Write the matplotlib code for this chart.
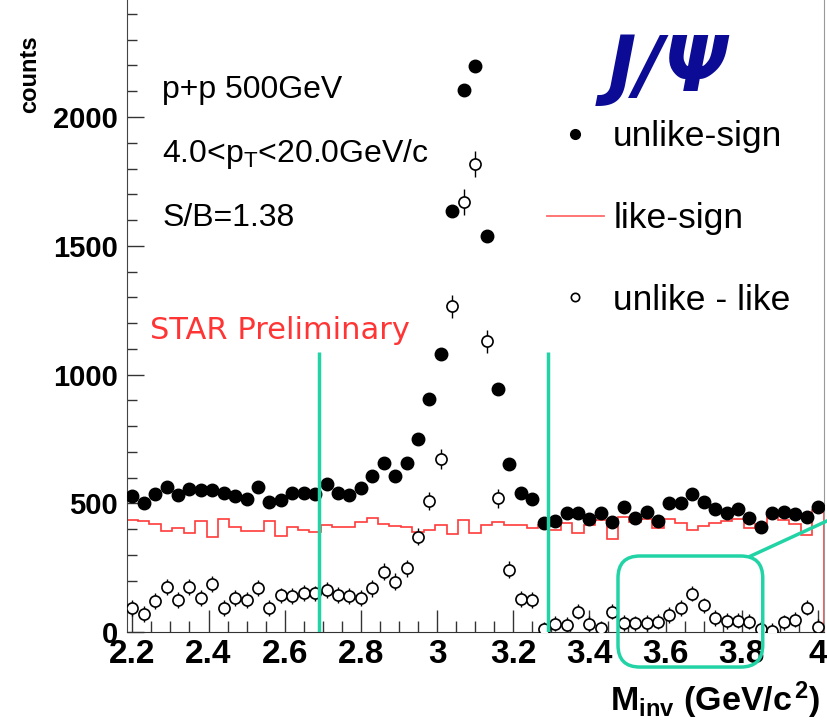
import numpy as np
import matplotlib.pyplot as plt
from matplotlib.patches import FancyBboxPatch
from matplotlib.lines import Line2D
from matplotlib.ticker import MultipleLocator
from matplotlib.transforms import IdentityTransform

plt.rcParams['font.family'] = ['Liberation Sans', 'DejaVu Sans']
plt.rcParams['mathtext.fontset'] = 'custom'
plt.rcParams['mathtext.rm'] = 'Liberation Sans'
plt.rcParams['mathtext.bf'] = 'Liberation Sans:bold'
plt.rcParams['mathtext.it'] = 'Liberation Sans:italic'

# invariant mass bins, 30 MeV wide
edges = np.round(np.linspace(2.185, 4.015, 62), 3)
mass = 0.5 * (edges[:-1] + edges[1:])

# unlike-sign pairs
unlike = np.array([527, 501, 537, 565, 533, 555, 552, 552, 540, 529,
                   517, 565, 507, 515, 539, 539, 537, 576, 542, 533,
                   559, 607, 656, 607, 656, 749, 905, 1080, 1636, 2105,
                   2197, 1538, 943, 653, 539, 516, 423, 432, 462, 462,
                   439, 462, 429, 485, 442, 468, 433, 501, 501, 537,
                   507, 477, 462, 477, 442, 408, 462, 468, 459, 449,
                   488])

# like-sign pairs (background)
like = np.array([436, 430, 419, 393, 404, 384, 430, 371, 439, 410,
                 393, 393, 430, 375, 410, 397, 391, 417, 410, 410,
                 427, 442, 420, 414, 407, 390, 398, 415, 383, 436,
                 384, 417, 429, 418, 416, 405, 415, 397, 425, 384,
                 416, 436, 361, 449, 429, 438, 403, 438, 423, 397,
                 414, 423, 430, 439, 406, 420, 449, 436, 420, 378,
                 473])

# unlike - like
signal = np.array([93, 71, 122, 175, 125, 177, 132, 188, 93, 132,
                   125, 171, 93, 143, 141, 151, 151, 164, 145, 141,
                   132, 171, 235, 197, 248, 371, 510, 671, 1266, 1671,
                   1817, 1130, 520, 242, 128, 125, 12, 33, 30, 80,
                   32, 15, 80, 35, 35, 35, 41, 67, 93, 150,
                   104, 55, 43, 45, 41, 12, 6, 38, 49, 95,
                   20])
signal_err = np.sqrt(unlike + like)

# mass window edges
window = [2.69, 3.29]

green = '#22d3a6'
red = '#ff3b3b'

fig = plt.figure(figsize=(8.28, 7.24), dpi=100)
ax = fig.add_axes([0.1529, 0.1267, 0.8419, 0.8733])

ax.stairs(like, edges, color=red, lw=1.2, zorder=2)
ax.plot(mass, unlike, 'o', color='black', ms=9, zorder=3)
ax.errorbar(mass, signal, yerr=signal_err, fmt='o', mfc='white', mec='black',
            mew=1.2, ms=8, ecolor='black', elinewidth=1.0, capsize=0, zorder=3)

ax.vlines(window, 0, 1088, colors=green, lw=2.5, zorder=4)

ax.set_xlim(2.185, 4.015)
ax.set_ylim(0, 2454)

xt = [2.2, 2.4, 2.6, 2.8, 3.0, 3.2, 3.4, 3.6, 3.8, 4.0]
ax.set_xticks(xt)
ax.set_xticklabels(['%g' % v for v in xt], fontweight='bold', fontsize=24)
yt = [0, 500, 1000, 1500, 2000]
ax.set_yticks(yt)
ax.set_yticklabels([str(v) for v in yt], fontweight='bold', fontsize=21)
ax.xaxis.set_minor_locator(MultipleLocator(0.05))
ax.yaxis.set_minor_locator(MultipleLocator(100))
ax.tick_params(axis='both', which='both', direction='in', color='#333333', width=1)
ax.tick_params(axis='x', which='major', length=16, pad=5)
ax.tick_params(axis='x', which='minor', length=8)
ax.tick_params(axis='y', which='major', length=12, pad=6)
ax.tick_params(axis='y', which='minor', length=7)

ax.spines['top'].set_visible(False)
ax.spines['left'].set_color('#444444')
ax.spines['bottom'].set_color('#333333')
ax.spines['right'].set_color('#999999')

# legend
handles = [Line2D([], [], marker='o', ls='none', color='black', ms=7),
           Line2D([], [], color='#ff6b6b', lw=1.3),
           Line2D([], [], marker='o', ls='none', mfc='white', mec='black', mew=1.2, ms=6)]
ax.legend(handles, ['unlike-sign', 'like-sign', 'unlike - like'],
          loc='upper left', bbox_to_anchor=(0.603, 0.81), frameon=False,
          fontsize=25.5, handlelength=1.6, handletextpad=0.27,
          labelspacing=1.38, borderpad=0, borderaxespad=0)

ax.text(0.051, 0.857, 'p+p 500GeV', transform=ax.transAxes, fontsize=23, va='center')
ax.text(0.051, 0.757, r'4.0<p$_{\mathrm{T}}$<20.0GeV/c', transform=ax.transAxes,
        fontsize=23, va='center')
ax.text(0.051, 0.655, 'S/B=1.38', transform=ax.transAxes, fontsize=23, va='center')
ax.text(0.034, 0.4765, 'STAR Preliminary', transform=ax.transAxes, fontsize=22,
        color='#ff3535', family='DejaVu Sans', va='center')
ax.text(0.777, 0.89, 'J/Ψ', transform=ax.transAxes, fontsize=55, color='#0b0b96',
        family='DejaVu Sans', fontweight='bold', fontstyle='italic',
        ha='center', va='center')

fig.text(30 / 828, 1 - 74 / 724, 'counts', rotation=90, fontweight='bold',
         fontsize=17, ha='center', va='center')
fig.text(820 / 828, 1 - 700 / 724, r'$\mathbf{M_{inv}}\ \mathbf{(GeV/c^{\,2})}$',
         ha='right', va='center', fontsize=24.5)

# highlight box around the psi(2S) region
(bx0, by0) = ax.transData.transform((3.475, -135))
(bx1, by1) = ax.transData.transform((3.855, 296))
box = FancyBboxPatch((bx0, by0), bx1 - bx0, by1 - by0,
                     boxstyle='round,pad=0,rounding_size=22', fill=False,
                     ec=green, lw=2.5, transform=IdentityTransform(), clip_on=False)
fig.add_artist(box)
fig.add_artist(Line2D([bx1 - 12, bx1 + 100], [by1, by1 + 0.46 * 112], color=green,
                      lw=2.5, transform=IdentityTransform(), clip_on=False))

fig.savefig('out.png', dpi=100)
